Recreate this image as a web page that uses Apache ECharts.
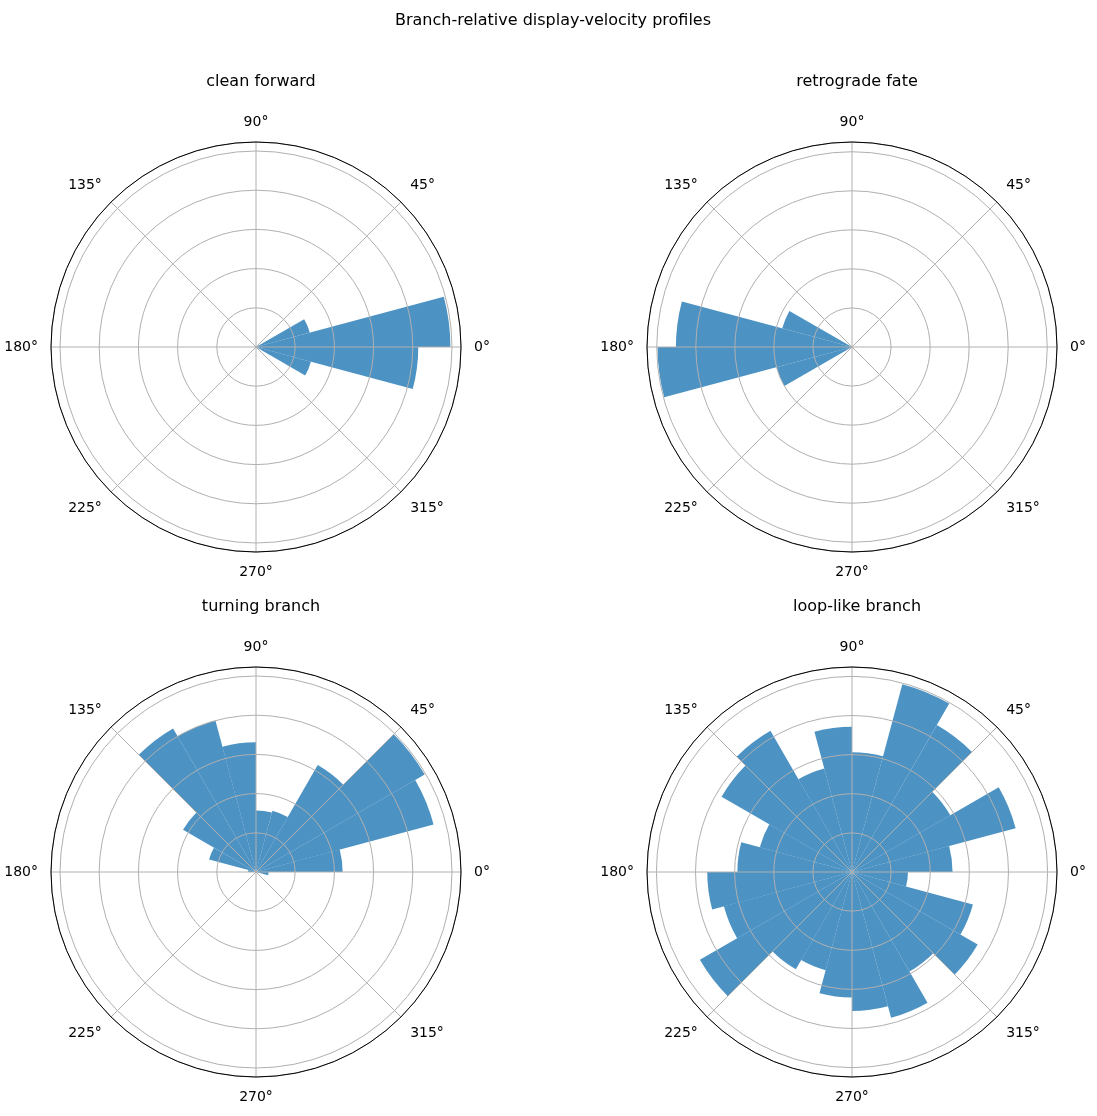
<!DOCTYPE html>
<html>
<head>
<meta charset="utf-8">
<script src="https://cdn.jsdelivr.net/npm/echarts@6/dist/echarts.min.js"></script>
<style>
  html, body { margin: 0; padding: 0; background: #fff; }
  #chart { width: 1097px; height: 1116px; }
</style>
</head>
<body>
<div id="chart"></div>
<script>
// 24 direction bins of 15 degrees, counted counter-clockwise from 0 deg
const binLabels = Array.from({ length: 24 }, (_, i) => i * 15 + '-' + (i + 1) * 15)

const panelTitles = ['clean forward', 'retrograde fate', 'turning branch', 'loop-like branch']

// bar lengths, in units of one radial grid ring
const cleanForward = [4.96, 1.42, 0, 0, 0, 0, 0, 0, 0, 0, 0, 0, 0, 0, 0, 0, 0, 0, 0, 0, 0, 0, 1.45, 4.14]
const retrogradeFate = [0, 0, 0, 0, 0, 0, 0, 0, 0, 0, 1.85, 4.51, 4.98, 2.0, 0, 0, 0, 0, 0, 0, 0, 0, 0, 0]
const turningBranch = [2.21, 4.69, 4.97, 3.15, 1.62, 1.57, 3.31, 4.0, 4.23, 2.15, 1.24, 0.2, 0, 0, 0, 0, 0, 0, 0, 0, 0, 0, 0, 0.32]
const loopBranch = [2.57, 4.33, 2.9, 4.34, 4.97, 3.06, 3.71, 2.74, 4.17, 3.85, 2.44, 2.93, 3.7, 3.39, 4.49, 2.87, 2.6, 3.21, 3.55, 3.86, 2.94, 3.71, 3.2, 1.43]

const panelData = [cleanForward, retrogradeFate, turningBranch, loopBranch]
const radiusMax = [5.23, 5.25, 5.23, 5.24]

const centers = [[256, 347], [852, 347], [256, 872], [852, 872]]
const outerR = 205
const gridColor = '#b0b0b0'
const barColor = 'rgba(31, 119, 180, 0.8)'
const font = 'DejaVu Sans'

const chart = echarts.init(document.getElementById('chart'))

const polar = []
const angleAxis = []
const radiusAxis = []
const series = []
const title = [{
  text: 'Branch-relative display-velocity profiles',
  left: 548, top: 8, textAlign: 'center',
  textStyle: { fontFamily: font, fontSize: 16, fontWeight: 'normal', color: '#000' }
}]

panelData.forEach((vals, i) => {
  const c = centers[i]
  const g = i * 2       // polar holding grid, ring lines and labels
  const b = i * 2 + 1   // polar holding the bars

  title.push({
    text: panelTitles[i],
    left: c[0], top: c[1] - 278, textAlign: 'center',
    textStyle: { fontFamily: font, fontSize: 16, fontWeight: 'normal', color: '#000' }
  })

  polar.push({ center: c, radius: [0, outerR] })
  polar.push({ center: c, radius: [0, outerR] })

  angleAxis.push({
    polarIndex: g,
    type: 'value',
    min: 0,
    max: 360,
    interval: 45,
    startAngle: 0,
    clockwise: false,
    z: 5,
    axisLine: { lineStyle: { color: '#000', width: 1 } },
    axisTick: { show: false },
    axisLabel: {
      margin: 13,
      align: 'center',
      verticalAlign: 'middle',
      fontFamily: font,
      fontSize: 14,
      color: '#000',
      formatter: v => (v === 360 ? '' : v + '°')
    },
    splitLine: { lineStyle: { color: gridColor, width: 1 } }
  })
  angleAxis.push({
    polarIndex: b,
    type: 'category',
    data: binLabels,
    startAngle: 0,
    clockwise: false,
    show: false
  })

  radiusAxis.push({
    polarIndex: g,
    type: 'value',
    min: 0,
    max: radiusMax[i],
    interval: 1,
    z: 5,
    axisLine: { show: false },
    axisTick: { show: false },
    axisLabel: { show: false },
    splitLine: { lineStyle: { color: gridColor, width: 1 } }
  })
  radiusAxis.push({
    polarIndex: b,
    type: 'value',
    min: 0,
    max: radiusMax[i],
    show: false
  })

  series.push({
    type: 'bar',
    coordinateSystem: 'polar',
    polarIndex: b,
    data: vals,
    barCategoryGap: '0%',
    itemStyle: { color: barColor },
    silent: true
  })
})

chart.setOption({
  animation: false,
  backgroundColor: '#fff',
  title,
  polar,
  angleAxis,
  radiusAxis,
  series
})
</script>
</body>
</html>
